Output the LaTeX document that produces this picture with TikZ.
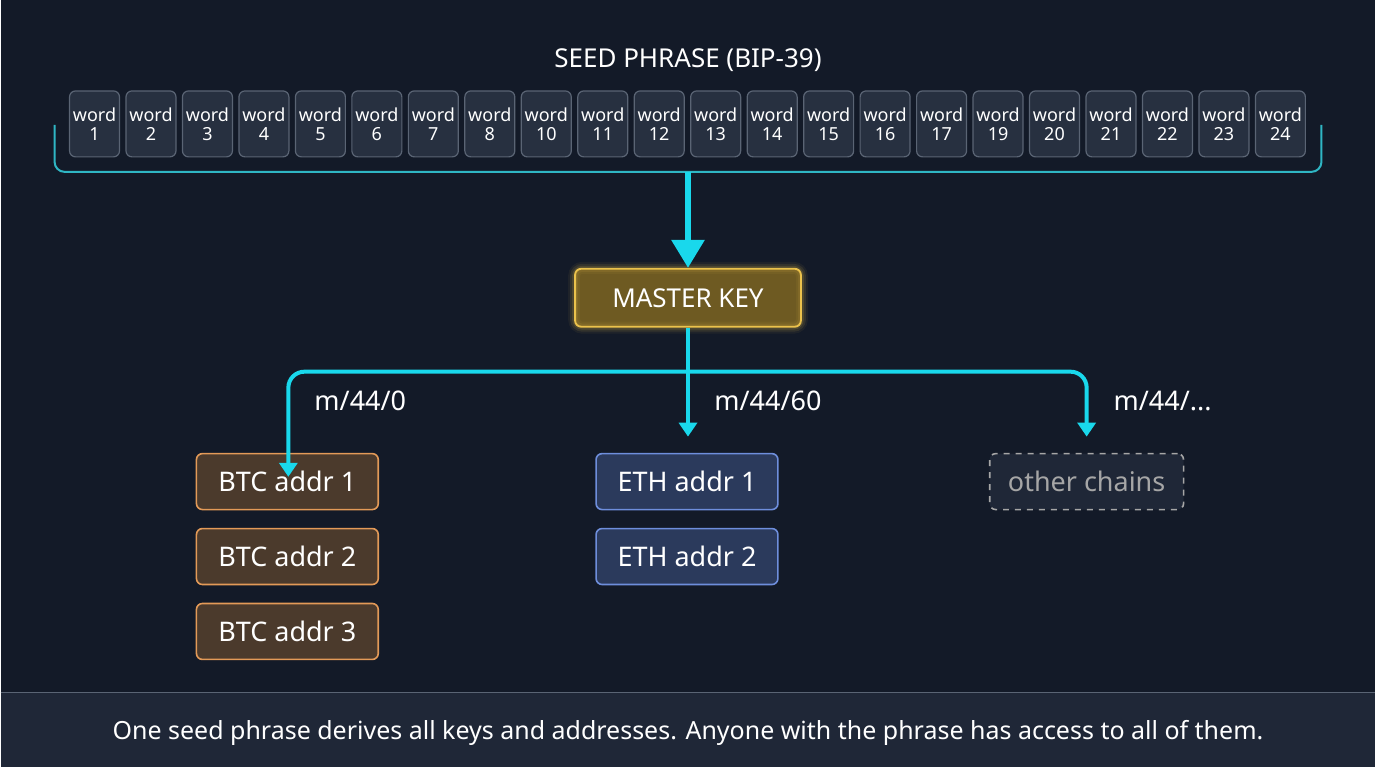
\documentclass[tikz,border=0pt]{standalone}
\usepackage{fontspec}
\setmainfont{Noto Sans}
\usetikzlibrary{arrows.meta}
\definecolor{bg}{HTML}{131A28}
\definecolor{cy}{HTML}{19D8EC}
\definecolor{br}{HTML}{2FB6C4}
\definecolor{wfill}{HTML}{273040}
\definecolor{wline}{HTML}{5A6474}
\definecolor{mkf}{HTML}{6E5A22}
\definecolor{mkl}{HTML}{EBC24C}
\definecolor{btcf}{HTML}{4B3A2C}
\definecolor{btcl}{HTML}{E39A58}
\definecolor{ethf}{HTML}{2B3A5C}
\definecolor{ethl}{HTML}{6E8EDC}
\definecolor{foot}{HTML}{1F2737}
\tikzset{
 word/.style={draw=wline,fill=wfill,rounded corners=3pt,minimum width=25pt,minimum height=33pt,inner sep=0pt,align=center,text=white,font=\fontsize{9}{9.5}\selectfont,line width=0.6pt},
 addr/.style={rounded corners=3pt,minimum width=91pt,minimum height=28pt,text=white,font=\fontsize{13.5}{14}\selectfont,line width=0.8pt},
 lbl/.style={text=white,font=\fontsize{13.5}{14}\selectfont},
 conn/.style={cy,line width=2pt,rounded corners=8pt,-{Triangle[width=9pt,length=7pt]}}
}
\begin{document}
\begin{tikzpicture}[x=0.5pt,y=-0.5pt]
\fill[bg] (0,0) rectangle (1376,768);
\fill[foot] (0,693) rectangle (1376,768);
\draw[wline,line width=0.6pt] (0,693) -- (1376,693);
\useasboundingbox (0,0) rectangle (1376,768);
\node[text=white,font=\fontsize{13}{14}\selectfont] (title) at (688,60) {SEED PHRASE (BIP-39)};
\foreach \n [count=\i from 0] in {1,2,3,4,5,6,7,8,10,11,12,13,14,15,16,17,19,20,21,22,23,24}
  \node[word] (w\n) at ({94+56.52*\i},124) {word\\\n};
\coordinate (bl) at (54,125); \coordinate (br) at (1322,125);
\draw[br,line width=1pt,rounded corners=5pt] (bl) -- (54,172) -- (1322,172) -- (br);
\coordinate (bm) at (688,172);
\node[draw=mkl,fill=mkf,rounded corners=3pt,minimum width=113pt,minimum height=29pt,text=white,font=\fontsize{13}{14}\selectfont,line width=0.9pt,
  drop shadow/.style={}] (mk) at (688,298) {MASTER KEY};
\begin{scope}[on background layer/.style={}]
\foreach \w/\o in {6/0.06,4/0.1,2/0.15}
  \draw[mkl,opacity=\o,line width=\w pt,rounded corners=4pt] (mk.south west) rectangle (mk.north east);
\end{scope}
\draw[cy,line width=3pt,-{Triangle[width=16pt,length=14pt]}] (bm) -- (mk.north);
\node[addr,draw=btcl,fill=btcf] (b1) at (287,482) {BTC addr 1};
\node[addr,draw=btcl,fill=btcf] (b2) at (287,557) {BTC addr 2};
\node[addr,draw=btcl,fill=btcf] (b3) at (287,632) {BTC addr 3};
\node[addr,draw=ethl,fill=ethf] (e1) at (687,482) {ETH addr 1};
\node[addr,draw=ethl,fill=ethf] (e2) at (687,557) {ETH addr 2};
\node[addr,draw=gray!70,dashed,fill=foot,minimum width=97pt,text=gray!70!white] (oc) at (1087,482) {other chains};
\coordinate (split) at (688,372);
\draw[cy,line width=2pt] (mk.south) -- (split);
\draw[conn] (split) -- (288,372) -- ([yshift=-12pt]b1.north -| 288,0);
\draw[conn] (split) -- (688,437);
\draw[conn] (split) -- (1087,372) -- (1087,437);
\node[lbl] (l1) at (360,401) {m/44/0};
\node[lbl] (l2) at (768,401) {m/44/60};
\node[lbl] (l3) at (1163,401) {m/44/...};
\node[text=white,font=\fontsize{12.5}{14}\selectfont] (ft) at (688,734) {One seed phrase derives all keys and addresses. Anyone with the phrase has access to all of them.};
\end{tikzpicture}
\end{document}
